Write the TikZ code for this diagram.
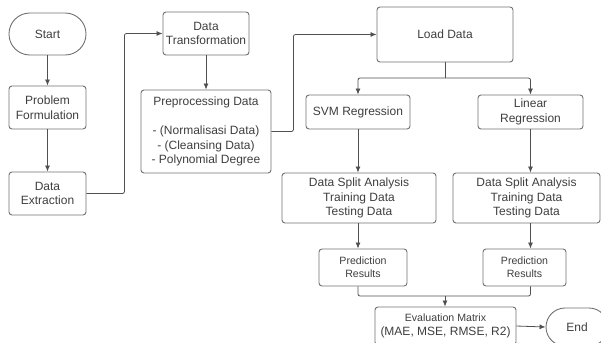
\documentclass[tikz,border=0pt]{standalone}
\usepackage{fontspec}
\setmainfont{Liberation Sans}
\usetikzlibrary{arrows.meta}
\definecolor{txt}{HTML}{3E3E3E}
\definecolor{edge}{HTML}{707070}
\definecolor{wire}{HTML}{505050}
\tikzset{
  box/.style={draw=edge, line width=0.9pt, rounded corners=3pt, text=txt, align=center,
    inner sep=0pt, font=\fontsize{12}{14.5}\selectfont},
  term/.style={box, rounded corners=19pt},
  small/.style={font=\fontsize{10.6}{13}\selectfont},
  conn/.style={draw=wire, line width=0.8pt, rounded corners=2pt},
  arr/.style={conn, -{Latex[length=6pt,width=5pt]}},
}
\begin{document}
\begin{tikzpicture}[x=1pt,y=-1pt]
\useasboundingbox (0,0) rectangle (601,342);
\clip (0,0) rectangle (601,342);
\node[term, minimum width=77pt, minimum height=42pt, rounded corners=20.9pt] (start) at (47.5,34) {Start};
\node[box, minimum width=77pt, minimum height=43pt] (pf) at (47.5,107.5) {Problem\\Formulation};
\node[box, minimum width=77pt, minimum height=43pt] (de) at (47.5,193.5) {Data\\Extraction};
\node[box, minimum width=86pt, minimum height=43pt] (dt) at (206,33.5) {Data\\Transformation};
\node[box, minimum width=130pt, minimum height=83pt] (pre) at (206,131.5) {Preprocessing Data\\[14.5pt]- (Normalisasi Data)\\- (Cleansing Data)\\- Polynomial Degree};
\node[box, minimum width=136pt, minimum height=55pt] (load) at (445,34.5) {Load Data};
\node[box, minimum width=104pt, minimum height=34pt] (svm) at (358,112) {SVM Regression};
\node[box, minimum width=105pt, minimum height=34pt] (lin) at (530.5,112) {Linear\\Regression};
\node[box, minimum width=154pt, minimum height=50pt] (splitL) at (359,198) {Data Split Analysis\\Training Data\\Testing Data};
\node[box, minimum width=147pt, minimum height=50pt] (splitR) at (526.5,198) {Data Split Analysis\\Training Data\\Testing Data};
\node[box, small, minimum width=88pt, minimum height=37pt] (predL) at (363,267.5) {Prediction\\Results};
\node[box, small, minimum width=83pt, minimum height=37pt] (predR) at (524.5,267.5) {Prediction\\Results};
\node[box, minimum width=141pt, minimum height=38pt] (eval) at (445.5,326) {{\fontsize{10.6}{12}\selectfont Evaluation Matrix}\\(MAE, MSE, RMSE, R2)};
\node[term, minimum width=62pt, minimum height=38pt] (end) at (577,327) {End};

\draw[arr] (start) -- (pf);
\draw[arr] (pf) -- (de);
\draw[arr] (de.east) -- ++(38,0) |- (dt.west);
\draw[arr] (dt) -- (pre);
\draw[arr] (pre.east) -- ++(22,0) |- (load.west);
\coordinate (br) at (445,78);
\draw[conn] (load.south) -- (br);
\draw[arr] (br) -| (svm.north);
\draw[arr] (br) -| (lin.north);
\draw[arr] (svm.south) -- (svm.south |- splitL.north);
\draw[arr] (lin.south) -- (lin.south |- splitR.north);
\draw[arr] (splitL.south -| svm.south) -- (predL.north -| svm.south);
\draw[arr] (splitR.south -| lin.south) -- (predR.north -| lin.south);
\coordinate (mg) at (445,296);
\draw[conn] (predL.south -| svm.south) |- (mg) -| (predR.south -| lin.south);
\draw[arr] (mg) -- (eval.north -| mg);
\draw[arr] (eval.east) -- (end.west);
\end{tikzpicture}
\end{document}
